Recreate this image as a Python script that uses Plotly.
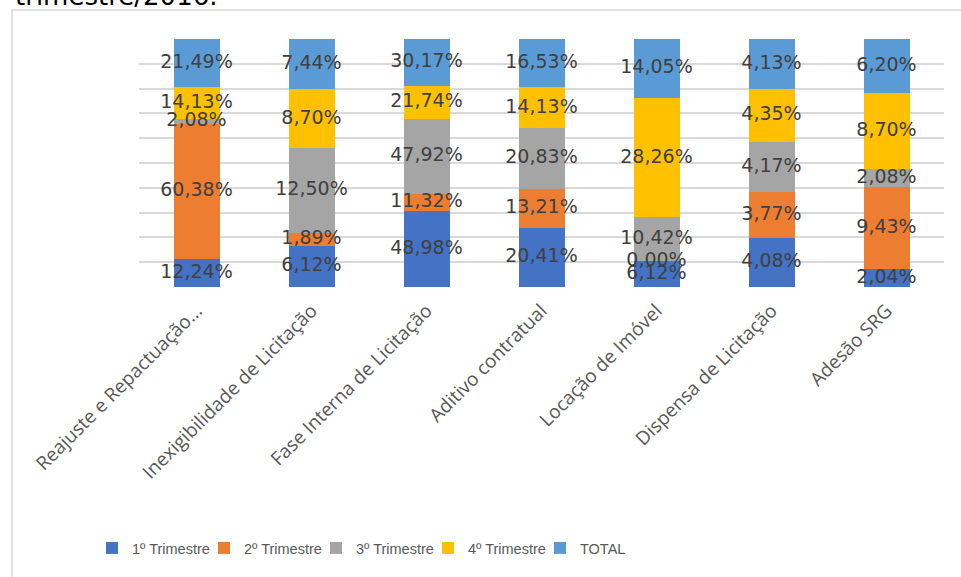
import plotly.graph_objects as go

categories = ["Reajuste e Repactuação...", "Inexigibilidade de Licitação", "Fase Interna de Licitação",
              "Aditivo contratual", "Locação de Imóvel", "Dispensa de Licitação", "Adesão SRG"]
series_names = ["1º Trimestre", "2º Trimestre", "3º Trimestre", "4º Trimestre", "TOTAL"]
t1 = [12.24, 6.12, 48.98, 20.41, 6.12, 4.08, 2.04]
t2 = [60.38, 1.89, 11.32, 13.21, 0.00, 3.77, 9.43]
t3 = [2.08, 12.50, 47.92, 20.83, 10.42, 4.17, 2.08]
t4 = [14.13, 8.70, 21.74, 14.13, 28.26, 4.35, 8.70]
total = [21.49, 7.44, 30.17, 16.53, 14.05, 4.13, 6.20]
colors = ["#4472C4", "#ED7D31", "#A5A5A5", "#FFC000", "#5B9BD5"]

W, H = 961, 577
L, R, T, B = 139, 17, 39, 290
pw, ph = W - L - R, H - T - B

def fmt(v):
    return f"{v:.2f}".replace(".", ",") + "%"

all_series = [t1, t2, t3, t4, total]
fig = go.Figure()
for name, vals, col in zip(series_names, all_series, colors):
    fig.add_trace(go.Bar(
        x=categories, y=vals, name=name, marker_color=col, marker_line_width=0,
        hoverinfo="skip",
    ))

# labels at the middle of each normalised stack segment
sums = [sum(s[i] for s in all_series) for i in range(len(categories))]
base = [0.0] * len(categories)
for vals in all_series:
    mids = []
    for i, v in enumerate(vals):
        share = 100 * v / sums[i]
        mids.append(base[i] + share / 2)
        base[i] += share
    fig.add_trace(go.Scatter(
        x=categories, y=mids, mode="text", text=[fmt(v) for v in vals],
        textposition="middle center", showlegend=False, cliponaxis=False, hoverinfo="skip",
        textfont=dict(family="DejaVu Sans", size=19, color="#404040"),
    ))

fig.update_layout(
    width=W, height=H, barmode="stack", barnorm="percent", bargap=0.6,
    margin=dict(l=L, r=R, t=T, b=B, autoexpand=False),
    paper_bgcolor="white", plot_bgcolor="white",
    xaxis=dict(tickangle=-45, showgrid=False, ticks="", showline=False, ticklabelstandoff=8,
               tickfont=dict(family="Open Sans", size=19, color="#595959")),
    yaxis=dict(range=[0, 100], dtick=10, showticklabels=False, gridcolor="#D9D9D9",
               gridwidth=2, zeroline=False, showline=False),
    legend=dict(orientation="h", x=(92 - L) / pw, xanchor="left",
                y=(T + ph - 548) / ph, yanchor="middle",
                font=dict(family="Liberation Sans", size=14.5, color="#595959"),
                itemwidth=30, entrywidth=67, entrywidthmode="pixels", traceorder="normal"),
    showlegend=True,
)

fig.add_shape(type="rect", xref="paper", yref="paper",
              x0=(12 - L) / pw, x1=(W + 10 - L) / pw,
              y0=-(B + 10) / ph, y1=1 + (T - 10) / ph,
              line=dict(color="#D9D9D9", width=1.5), fillcolor="rgba(0,0,0,0)", layer="below")

fig.add_annotation(text="trimestre/2016.", xref="paper", yref="paper",
                   x=(13 - L) / pw, xanchor="left", y=1, yanchor="bottom", yshift=T - 13,
                   showarrow=False, font=dict(family="DejaVu Sans", size=26, color="#000000"))

fig.write_html("out.html")
